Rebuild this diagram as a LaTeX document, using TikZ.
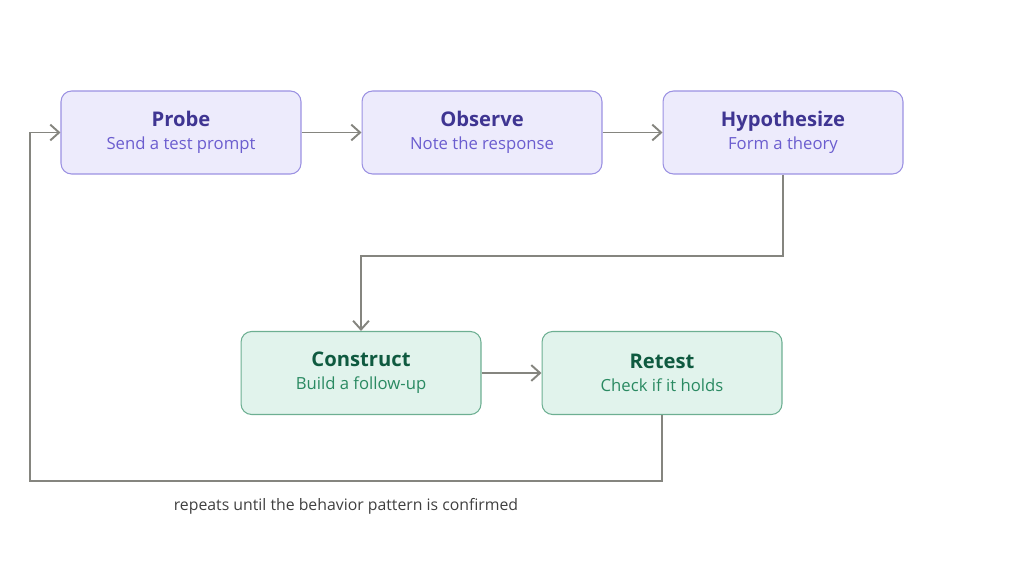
\documentclass[tikz,border=0pt]{standalone}
\usepackage{fontspec}
\setmainfont{Open Sans}
\usetikzlibrary{calc,arrows.meta}
\definecolor{pfill}{HTML}{EDEBFC}
\definecolor{pdraw}{HTML}{9B91E2}
\definecolor{ptitle}{HTML}{3F3592}
\definecolor{psub}{HTML}{6B5DCF}
\definecolor{gfill}{HTML}{E1F3EC}
\definecolor{gdraw}{HTML}{6DAF92}
\definecolor{gtitle}{HTML}{0F5A40}
\definecolor{gsub}{HTML}{2A8A62}
\definecolor{wire}{HTML}{85857F}
\tikzset{
  stage/.style={rounded corners=6pt, minimum width=4.8cm, minimum height=1.66cm, align=center, line width=0.6pt},
  stagep/.style={stage, fill=pfill, draw=pdraw},
  stageg/.style={stage, fill=gfill, draw=gdraw},
  flow/.style={draw=wire, line width=1.1pt, -{Straight Barb[length=5pt,width=9pt]}}
}
\newcommand{\steptext}[4]{{\fontsize{11.5}{14}\selectfont\bfseries\color{#1}#3}\\[1pt]{\fontsize{9.5}{12}\selectfont\color{#2}#4}}
\begin{document}
\begin{tikzpicture}[x=0.02cm,y=-0.02cm]
        \useasboundingbox (0,0) rectangle (1024,572);
        \node[stagep] (probe) at (181,132.5) {\steptext{ptitle}{psub}{Probe}{Send a test prompt}};
        \node[stagep] (observe) at (482,132.5) {\steptext{ptitle}{psub}{Observe}{Note the response}};
        \node[stagep] (hypo) at (783,132.5) {\steptext{ptitle}{psub}{Hypothesize}{Form a theory}};
        \node[stageg] (construct) at (361,373) {\steptext{gtitle}{gsub}{Construct}{Build a follow-up}};
        \node[stageg] (retest) at (662,373) {\steptext{gtitle}{gsub}{Retest}{Check if it holds}};
        \coordinate (loop) at (30,481);
        \coordinate (bend) at (0,256);

        \draw[flow] (probe) -- (observe);
        \draw[flow] (observe) -- (hypo);
        \draw[flow] (hypo.south) |- (bend -| construct.north) -- (construct.north);
        \draw[flow] (construct) -- (retest);
        \draw[flow] (retest.south) |- (loop) |- (probe.west);
        \node[text=black!75, font=\fontsize{9}{11}\selectfont] (note) at (346,506) {repeats until the behavior pattern is confirmed};
\end{tikzpicture}
\end{document}
